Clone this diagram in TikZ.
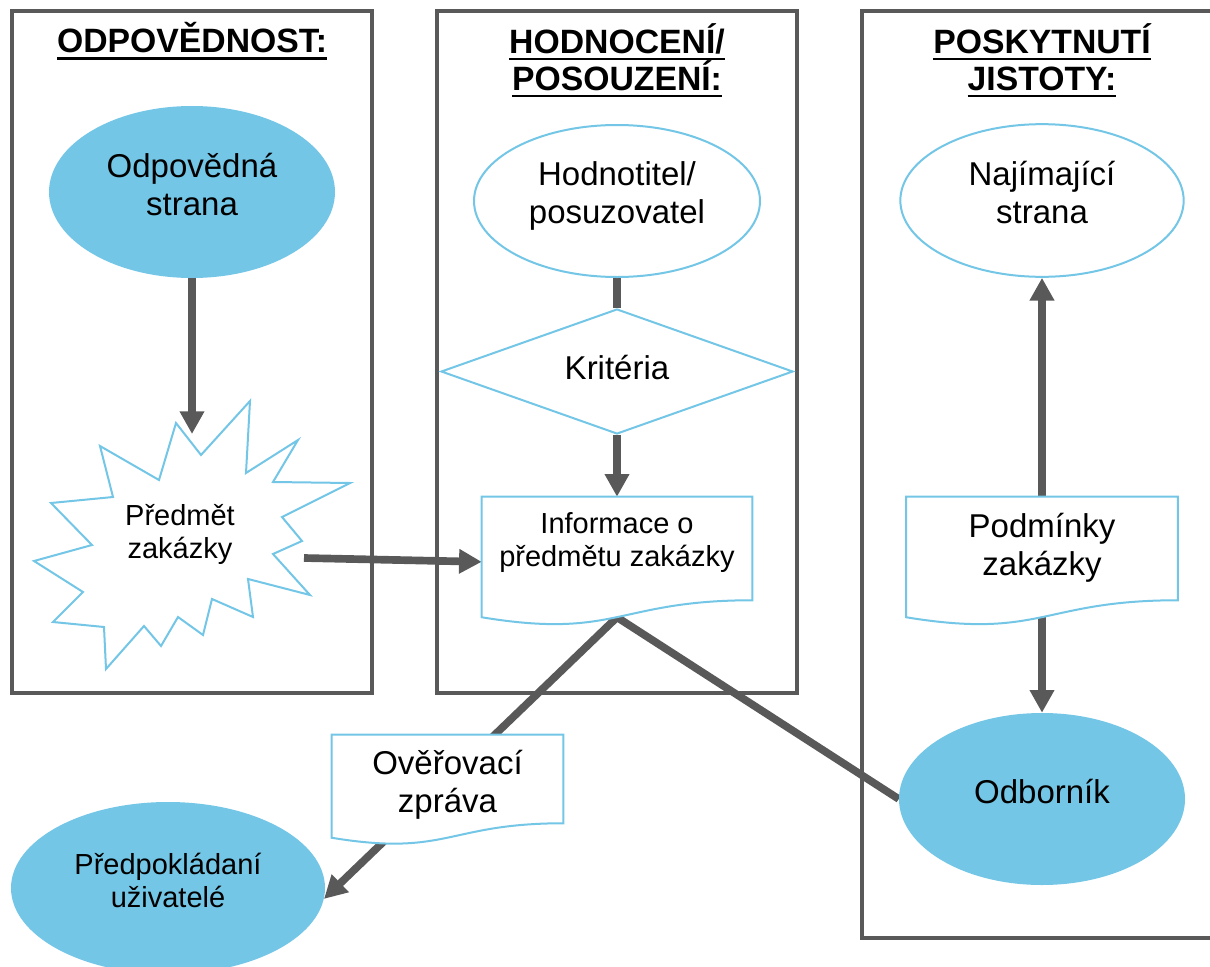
\documentclass[tikz,border=0pt]{standalone}
\usepackage{fontspec}
\setmainfont{Liberation Sans}
\usetikzlibrary{shapes.geometric,arrows.meta,calc,backgrounds}

\definecolor{boxgrey}{HTML}{595959}
\definecolor{skyblue}{HTML}{73C6E6}

% underlined heading line
\newcommand\ulhead[1]{\setbox0=\hbox{#1}\rlap{\rule[-5.3pt]{\wd0}{2pt}}\box0}
% document shape round a named node
\newcommand\docoutline[3]{%
  \draw[docedge] (#1.north west) -- (#1.north east) -- (#1.south east)
    .. controls (#1.south) and ($(#1.south)+(0,#3)$) .. ($(#1.south west)+(0,#2)$) -- cycle;}

\tikzset{
  panel/.style={draw=boxgrey, line width=3pt},
  heading/.style={font=\bfseries\fontsize{25.3}{27.75}\selectfont, align=center, inner sep=0pt, anchor=north},
  big/.style={font=\fontsize{24.75}{28.5}\selectfont},
  small/.style={font=\fontsize{21.75}{24.75}\selectfont},
  drop/.style={execute at end node={\rule[-#1]{0pt}{#1}}},
  party/.style={ellipse, fill=skyblue, inner sep=0pt, align=center, drop=12pt},
  actor/.style={ellipse, draw=skyblue, line width=1.5pt, fill=white, inner sep=0pt, align=center, drop=12pt},
  doc/.style={rectangle, inner sep=0pt, align=center},
  docedge/.style={draw=skyblue, line width=1.5pt, fill=white},
  burst/.style={draw=skyblue, line width=1.5pt, fill=white, line join=miter},
  conn/.style={draw=boxgrey, line width=5.75pt, -{Triangle[width=17.5pt,length=17pt]}},
  link/.style={draw=boxgrey, line width=5.75pt},
}

\begin{document}
\begin{tikzpicture}[x=0.75pt,y=-0.75pt]
\path[use as bounding box] (0,0) rectangle (1210,967);

% headings
\node[heading] (h1) at (192,22) {\ulhead{ODPOVĚDNOST:}};
\node[heading] (h2) at (617,23) {\ulhead{HODNOCENÍ/}\\\ulhead{POSOUZENÍ:}};
\node[heading] (h3) at (1042,23) {\ulhead{POSKYTNUTÍ}\\\ulhead{JISTOTY:}};

% parties
\node[party, big, minimum width=214.5pt, minimum height=129pt] (resp) at (192,192) {Odpovědná\\strana};
\node[actor, big, minimum width=214.5pt, minimum height=114pt] (assessor) at (617,201) {Hodnotitel/\\posuzovatel};
\node[actor, big, minimum width=212.5pt, minimum height=114.5pt] (engage) at (1042,200.5) {Najímající\\strana};
\node[party, big, minimum width=214.5pt, minimum height=129pt] (expert) at (1042,799) {Odborník};
\node[party, small, minimum width=235.5pt, minimum height=129pt] (users) at (168,888) {Předpokládaní\\uživatelé};
\node[diamond, draw=skyblue, line width=1.5pt, fill=white, aspect=2.8, inner sep=0pt,
  minimum width=264pt, minimum height=93.75pt, big, drop=6pt] (crit) at (617,371.5) {Kritéria};

% subject matter
\draw[burst] (250,401) -- (246,473) -- (298,440) -- (273,482) -- (350,483) -- (282,517)
  -- (302,541) -- (273,554) -- (310,595) -- (248,579) -- (253,617) -- (212,599)
  -- (203,635) -- (178,617) -- (161,646) -- (144,626) -- (106,669) -- (104,627)
  -- (53,622) -- (83,592) -- (34,561) -- (92,545) -- (51,503) -- (113,497)
  -- (100,446) -- (159,480) -- (176,423) -- (201,455) -- cycle;
\node[small, align=center, inner sep=0pt] (subj) at (180,534.5) {Předmět\\zakázky};

% documents
\node[doc, small, minimum width=202.5pt, minimum height=77.25pt, drop=12.75pt] (info) at (617,548.5) {Informace o\\předmětu zakázky};
\node[doc, big, minimum width=203.25pt, minimum height=77.25pt, drop=6.75pt] (cond) at (1042,548.5) {Podmínky\\zakázky};
\node[doc, big, minimum width=173.25pt, minimum height=66pt] (report) at (447.5,779) {\rule{0pt}{26.5pt}Ověřovací\\zpráva};

\coordinate (subjtop) at (192,434);
\coordinate (subjedge) at (304,558);
\coordinate (infobot) at ($(info.south)+(0,17)$);
\coordinate (condbot) at ($(cond.south)+(0,17)$);

\begin{scope}[on background layer]
\draw[panel] (12,11) rectangle (372,693);
\draw[panel] (437,11) rectangle (797,693);
\draw[panel] (862,11) rectangle (1230,938);
%
\draw[conn] (resp) -- (subjtop);
\draw[conn] (subjedge) -- ([yshift=-10pt]info.west);
\draw[link] (assessor) -- (crit);
\draw[conn] (crit) -- (info);
\draw[conn] (cond) -- (engage);
\draw[conn] (condbot) -- (expert);
\draw[conn] (expert.west) -- (infobot) -- (users.-4);
%
\docoutline{info}{17}{39.3}
\docoutline{cond}{17}{39.3}
\docoutline{report}{14.5}{33.6}
\end{scope}
\end{tikzpicture}
\end{document}
